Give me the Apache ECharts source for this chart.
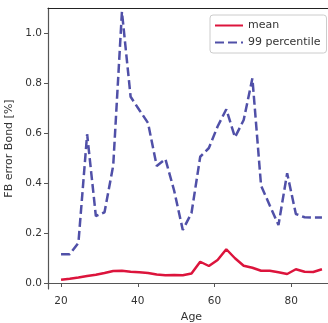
<!DOCTYPE html>
<html>
<head>
<meta charset="utf-8">
<script src="https://cdn.jsdelivr.net/npm/echarts@6/dist/echarts.min.js"></script>
<style>html,body{margin:0;padding:0;background:#fff}#c{width:328px;height:323px}</style>
</head>
<body>
<div id="c"></div>
<script>
const ages = [20, 22.27, 24.53, 26.8, 29.07, 31.33, 33.6, 35.87, 38.13, 40.4, 42.67, 44.93, 47.2, 49.47, 51.73, 54, 56.27, 58.53, 60.8, 63.07, 65.33, 67.6, 69.87, 72.13, 74.4, 76.67, 78.93, 81.2, 83.47, 85.73, 88];
const meanVals = [0.013, 0.017, 0.022, 0.028, 0.033, 0.040, 0.048, 0.049, 0.045, 0.043, 0.040, 0.034, 0.031, 0.032, 0.031, 0.038, 0.085, 0.068, 0.092, 0.135, 0.099, 0.069, 0.061, 0.049, 0.049, 0.043, 0.036, 0.055, 0.045, 0.044, 0.055];
const p99Vals = [0.115, 0.115, 0.161, 0.595, 0.268, 0.283, 0.47, 1.085, 0.745, 0.692, 0.640, 0.468, 0.496, 0.37, 0.212, 0.28, 0.505, 0.54, 0.626, 0.695, 0.583, 0.652, 0.819, 0.39, 0.31, 0.232, 0.439, 0.276, 0.263, 0.262, 0.262];
const xTicks = [20, 40, 60, 80];
const yTicks = [0.0, 0.2, 0.4, 0.6, 0.8, 1.0];
const seriesNames = ['mean', '99 percentile'];

const font = 'DejaVu Sans';
const chart = echarts.init(document.getElementById('c'), null, {renderer: 'canvas'});
chart.setOption({
  animation: false,
  backgroundColor: '#fff',
  textStyle: {fontFamily: font},
  grid: {left: 48, top: 8, bottom: 34, right: -7, containLabel: false, outerBoundsMode: 'none'},
  legend: {
    orient: 'vertical', left: 210, top: 15,
    padding: [5, 6, 5, 4], itemGap: 6, itemWidth: 28, itemHeight: 12,
    backgroundColor: 'rgba(255,255,255,0.85)', borderColor: '#ccc', borderWidth: 1, borderRadius: 3,
    itemStyle: {opacity: 0},
    textStyle: {fontFamily: font, fontSize: 11, color: '#333'},
    data: seriesNames
  },
  xAxis: [{
    type: 'value', min: 16.6, max: 91.4,
    name: 'Age', nameLocation: 'middle', nameGap: 22,
    nameTextStyle: {fontFamily: font, fontSize: 11, color: '#333'},
    axisLine: {show: true, lineStyle: {color: '#555', width: 1.2}},
    axisTick: {show: true, length: 4, lineStyle: {color: '#555'}, customValues: xTicks},
    axisLabel: {color: '#333', fontSize: 10.5, fontFamily: font, margin: 7, customValues: xTicks},
    splitLine: {show: false}
  }, {
    type: 'value', min: 16.6, max: 91.4, position: 'top',
    axisLine: {show: true, lineStyle: {color: '#222', width: 1.2}},
    axisTick: {show: false}, axisLabel: {show: false}, splitLine: {show: false}
  }],
  yAxis: {
    type: 'value', min: -0.024, max: 1.1,
    name: 'FB error Bond [%]', nameLocation: 'middle', nameGap: 33, nameRotate: 90,
    nameTextStyle: {fontFamily: font, fontSize: 11, color: '#333'},
    axisLine: {show: true, lineStyle: {color: '#555', width: 1.2}},
    axisTick: {show: true, length: 4, lineStyle: {color: '#555'}, customValues: yTicks},
    axisLabel: {color: '#333', fontSize: 10.5, fontFamily: font, margin: 6, customValues: yTicks,
      formatter: v => v.toFixed(1)},
    splitLine: {show: false}
  },
  series: [{
    name: seriesNames[0], type: 'line', symbol: 'none',
    data: ages.map((a, i) => [a, meanVals[i]]),
    lineStyle: {color: '#dc143c', width: 2.5}, itemStyle: {color: '#dc143c'}
  }, {
    name: seriesNames[1], type: 'line', symbol: 'none',
    data: ages.map((a, i) => [a, p99Vals[i]]),
    lineStyle: {color: '#5050a8', width: 2.5, type: [9, 4]}, itemStyle: {color: '#5050a8'}
  }]
});
</script>
</body>
</html>
